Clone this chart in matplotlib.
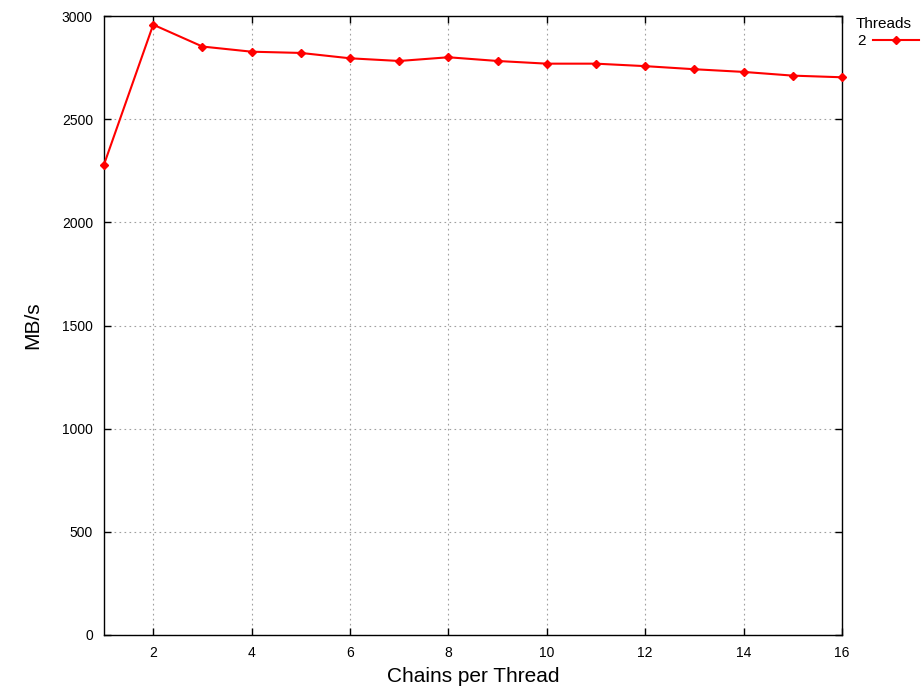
import matplotlib
matplotlib.use("Agg")
import matplotlib.pyplot as plt

plt.rcParams['font.family'] = ['Liberation Sans', 'DejaVu Sans']

chains = [1, 2, 3, 4, 5, 6, 7, 8, 9, 10, 11, 12, 13, 14, 15, 16]
mbs_2threads = [2280, 2958, 2852, 2827, 2821, 2795, 2782, 2800,
                2782, 2769, 2769, 2757, 2742, 2729, 2711, 2703]
xticks = [2, 4, 6, 8, 10, 12, 14, 16]
yticks = [0, 500, 1000, 1500, 2000, 2500, 3000]

fig = plt.figure(figsize=(9.24, 6.87), dpi=100)
ax = fig.add_axes([104/924, 1 - 635/687, (842-104)/924, (635-16)/687])

ax.plot(chains, mbs_2threads, color='#ff0000', lw=1.5, marker='D',
        markersize=4, label='2', clip_on=False, zorder=3)

ax.set_xlim(1, 16)
ax.set_ylim(0, 3000)
ax.set_xticks(xticks)
ax.set_yticks(yticks)
ax.tick_params(direction='in', top=True, right=True, labelsize=10,
               length=5, width=1, colors='black', pad=8)
ax.grid(True, linestyle=(0, (1.5, 3)), color='#a0a0a0', lw=0.8)
for s in ax.spines.values():
    s.set_linewidth(1.0)

ax.set_xlabel('Chains per Thread', fontsize=15, labelpad=5)
ax.set_ylabel('MB/s', fontsize=15, labelpad=14)

# legend outside on the right, gnuplot style (label before the sample)
fig.text(912/924, 1 - 24/687, 'Threads', ha='right', va='center', fontsize=11)
leg = ax.legend(loc='center left', bbox_to_anchor=(857/924, 1 - 41/687),
                bbox_transform=fig.transFigure,
                frameon=False, markerfirst=False, fontsize=11,
                handlelength=3.0, handletextpad=0.5,
                borderaxespad=0.0, borderpad=0.0)

fig.savefig('out.png', dpi=100)
